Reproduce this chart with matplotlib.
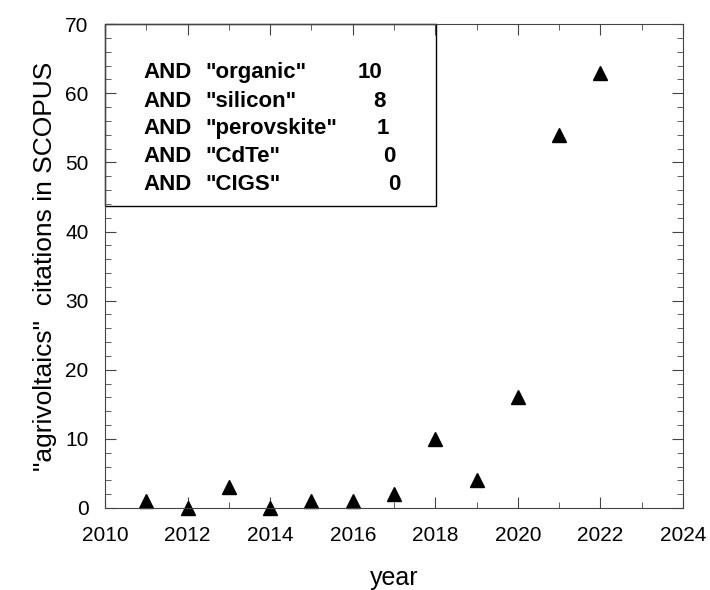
import numpy as np
import matplotlib.pyplot as plt
from matplotlib.ticker import MultipleLocator
from matplotlib.patches import Rectangle

years = [2011, 2012, 2013, 2014, 2015, 2016, 2017, 2018, 2019, 2020, 2021, 2022]
citations = [1, 0, 3, 0, 1, 1, 2, 10, 4, 16, 54, 63]

keywords = ['"organic"', '"silicon"', '"perovskite"', '"CdTe"', '"CIGS"']
counts = ['10', '8', '1', '0', '0']

plt.rcParams['font.family'] = ['Liberation Sans', 'DejaVu Sans']

fig = plt.figure(figsize=(7.1, 5.9), dpi=100)
ax = fig.add_axes([0.148, 0.139, 0.814, 0.82])

ax.plot(years, citations, linestyle='none', marker='^', color='black', markersize=10.5, clip_on=False)

ax.set_xlim(2010, 2024)
ax.set_ylim(0, 70)
ax.xaxis.set_major_locator(MultipleLocator(2))
ax.xaxis.set_minor_locator(MultipleLocator(1))
ax.yaxis.set_major_locator(MultipleLocator(10))
ax.yaxis.set_minor_locator(MultipleLocator(2))
ax.tick_params(which='both', direction='in', top=True, right=True, labelsize=15, color='#444444')
ax.tick_params(axis='y', pad=12)
ax.tick_params(axis='x', pad=13)
ax.tick_params(which='major', length=8)
ax.tick_params(which='minor', length=4)
for s in ax.spines.values():
    s.set_color('#444444')

ax.set_xlabel('year', fontsize=18, labelpad=15)
ax.set_ylabel('"agrivoltaics"  citations in SCOPUS', fontsize=19, labelpad=6)

# box with keyword counts
ax.add_patch(Rectangle((0, 0.624), 0.573, 0.376, transform=ax.transAxes,
                       fill=False, edgecolor='black', linewidth=1, clip_on=False))
row_y = [78, 107, 134, 162, 190]
num_x = [358, 373, 377, 383, 388]
for i in range(len(keywords)):
    yy = 1 - row_y[i] / 590
    fig.text(143 / 710, yy, 'AND', fontsize=16, fontweight='bold', va='baseline')
    fig.text(205 / 710, yy, keywords[i], fontsize=16, fontweight='bold', va='baseline')
    fig.text(num_x[i] / 710, yy, counts[i], fontsize=16, fontweight='bold', va='baseline')

fig.savefig('out.png', dpi=100)
